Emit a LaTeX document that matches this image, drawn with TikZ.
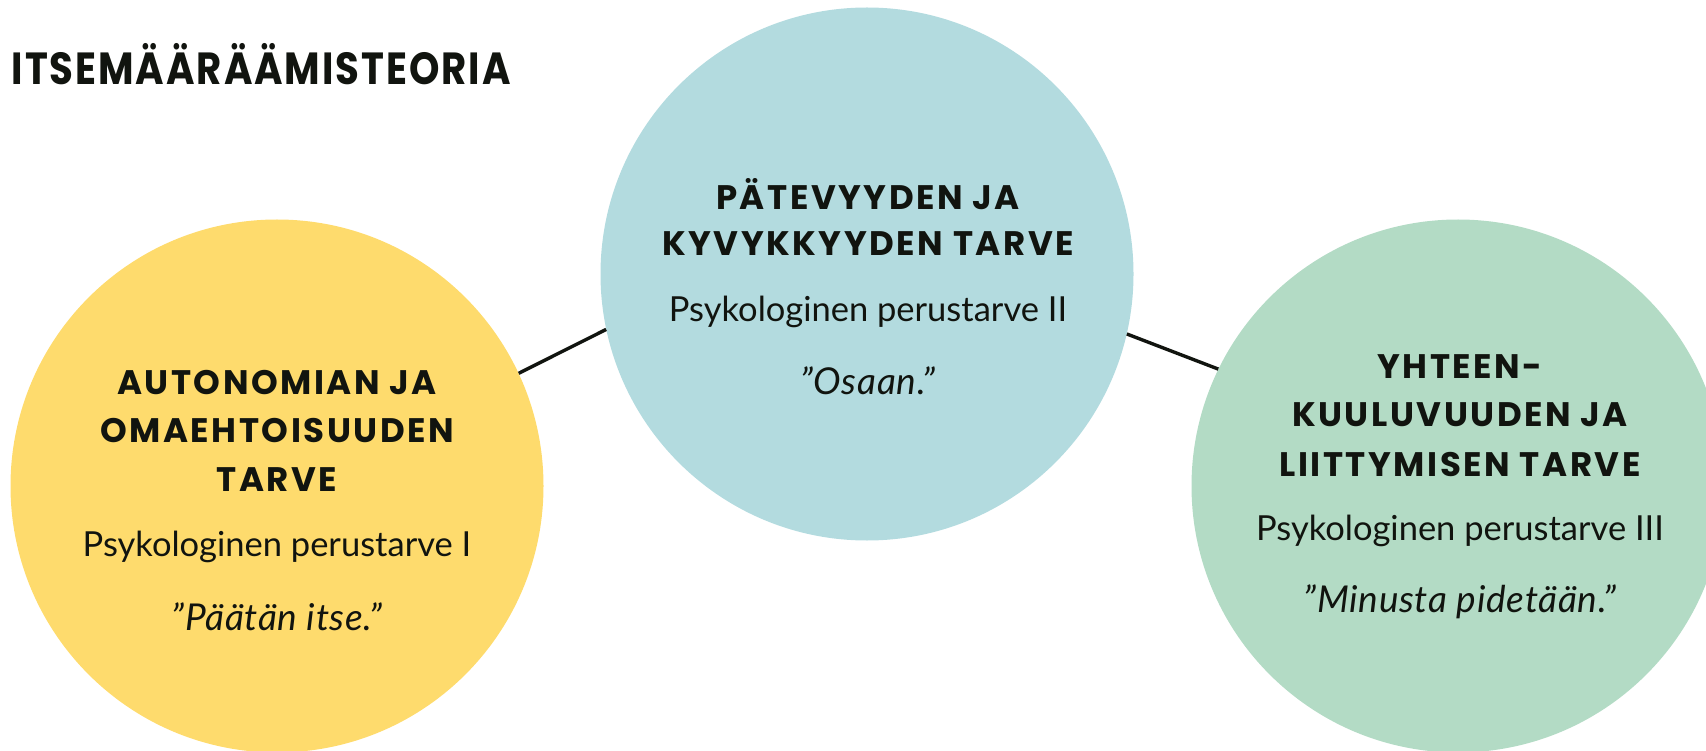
\documentclass[tikz,border=0pt]{standalone}
\usepackage{fontspec}
\usepackage{graphicx}
\newfontfamily\headfont{Poppins}[LetterSpace=7.5]
\newfontfamily\titlefont{Poppins}[LetterSpace=5]
\newfontfamily\bodyfont{Lato}
\newfontfamily\quotefont{Lato}[LetterSpace=2]
\definecolor{ink}{RGB}{17,20,15}
\definecolor{needyellow}{RGB}{254,219,109}
\definecolor{needblue}{RGB}{179,219,223}
\definecolor{needgreen}{RGB}{179,219,197}
% condensed title lettering
\newcommand{\cond}[1]{\scalebox{0.86}[1]{#1}}

\begin{document}
\begin{tikzpicture}[x=1pt,y=-1pt,
  need/.style={circle, minimum size=533pt, inner sep=0pt, draw=none},
  head/.style={anchor=base, inner sep=0pt, text=ink,
    font=\headfont\bfseries\fontsize{34}{40}\selectfont},
  body/.style={anchor=base, inner sep=0pt, text=ink,
    font=\bodyfont\fontsize{34.5}{40}\selectfont},
  quote/.style={anchor=base, inner sep=0pt, text=ink,
    font=\quotefont\itshape\fontsize{37}{40}\selectfont},
  title/.style={anchor=base west, inner sep=0pt, text=ink,
    font=\titlefont\bfseries\fontsize{45}{50}\selectfont},
  link/.style={draw=ink, line width=3.4pt}]

\useasboundingbox (0,0) rectangle (1706,751);
\clip (0,0) rectangle (1706,751);

% the three needs
\node[need, fill=needyellow] (auto) at (277,486) {};
\node[need, fill=needblue]   (comp) at (867,274) {};
\node[need, fill=needgreen]  (rel)  at (1458,486) {};

% connectors between the circles
\draw[link] (auto.25.2) -- (comp.192.1);
\draw[link] (comp.347.9) -- (rel.154.7);

% title
\node[title] (ttl) at (11.5,85) {\cond{ITSEMÄÄRÄÄMISTEORIA}};

% autonomy
\node[head] (a1) at (277,395)   {AUTONOMIAN JA};
\node[head] (a2) at (277,442.7) {OMAEHTOISUUDEN};
\node[head] (a3) at (277,491.7) {TARVE};
\node[body] (a4) at (277,556.7) {Psykologinen perustarve I};
\node[quote] (a5) at (277,630)  {”Päätän itse.”};

% competence
\node[head] (c1) at (868,209.3) {PÄTEVYYDEN JA};
\node[head] (c2) at (868,255.7) {KYVYKKYYDEN TARVE};
\node[body] (c3) at (868,321.7) {Psykologinen perustarve II};
\node[quote] (c4) at (868,394)  {”Osaan.”};

% relatedness
\node[head] (r1) at (1460,378.3) {YHTEEN-};
\node[head] (r2) at (1460,426.7) {KUULUVUUDEN JA};
\node[head] (r3) at (1460,476)   {LIITTYMISEN TARVE};
\node[body] (r4) at (1460,540)   {Psykologinen perustarve III};
\node[quote] (r5) at (1460,612.7) {”Minusta pidetään.”};
\end{tikzpicture}
\end{document}
